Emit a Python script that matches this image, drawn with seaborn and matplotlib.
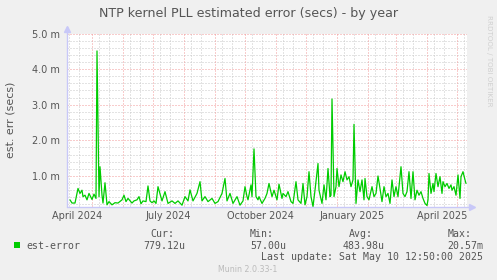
import matplotlib
matplotlib.use("Agg")
import matplotlib.pyplot as plt
import seaborn as sns
import pandas as pd

# =========================
# DATA
# =========================
start = "2024-04-06"

# days since start
day = [3, 5, 8, 11, 13, 15, 16, 18, 20, 22, 25, 27, 29, 30, 32, 33, 35, 36, 38, 40,
       42, 45, 48, 51, 55, 57, 59, 61, 65, 67, 70, 72, 74, 76, 79, 81, 83, 85, 87, 89,
       91, 95, 98, 101, 105, 108, 111, 115, 118, 121, 123, 126, 130, 133, 135, 138, 141, 145, 148, 151,
       155, 158, 160, 163, 166, 170, 173, 176, 178, 180, 181, 184, 185, 187, 189, 191, 192, 195, 198, 200,
       202, 205, 207, 210, 212, 215, 216, 219, 221, 224, 226, 229, 231, 234, 236, 238, 240, 242, 244, 246,
       248, 251, 252, 255, 257, 259, 261, 263, 264, 265, 267, 269, 270, 272, 274, 276, 278, 280, 282, 284,
       286, 287, 289, 291, 293, 295, 297, 298, 300, 302, 305, 307, 309, 311, 313, 315, 317, 319, 321, 323,
       325, 327, 329, 331, 334, 336, 338, 340, 342, 344, 346, 348, 350, 352, 354, 356, 358, 360, 361, 362,
       364, 366, 367, 369, 371, 373, 375, 376, 378, 380, 382, 384, 385, 387, 389, 391, 393, 394, 396, 398,
       399]

# estimated error in milliseconds
est_error = [0.33, 0.24, 0.24, 0.65, 0.51, 0.60, 0.42, 0.46, 0.33, 0.51, 0.34, 0.49, 0.37, 4.51, 0.42, 1.26, 0.46, 0.24, 0.81, 0.19,
             0.28, 0.19, 0.25, 0.24, 0.33, 0.46, 0.28, 0.37, 0.24, 0.30, 0.33, 0.42, 0.22, 0.30, 0.28, 0.72, 0.30, 0.25, 0.30, 0.23,
             0.70, 0.30, 0.56, 0.23, 0.30, 0.23, 0.30, 0.18, 0.42, 0.30, 0.61, 0.30, 0.51, 0.84, 0.30, 0.42, 0.28, 0.37, 0.23, 0.28,
             0.51, 0.93, 0.30, 0.51, 0.23, 0.42, 0.18, 0.30, 0.70, 0.42, 0.33, 0.75, 0.42, 1.76, 0.42, 0.33, 0.42, 0.23, 0.37, 0.51,
             0.79, 0.42, 0.60, 0.33, 0.77, 0.37, 0.51, 0.42, 0.56, 0.28, 0.23, 0.84, 0.33, 0.23, 0.79, 0.19, 0.42, 1.12, 0.42, 0.14,
             0.60, 1.35, 0.60, 0.23, 0.75, 0.33, 1.21, 0.42, 0.46, 3.16, 0.42, 0.70, 1.21, 0.70, 1.03, 0.84, 1.12, 0.89, 0.98, 0.70,
             0.89, 2.45, 0.23, 0.89, 0.56, 0.89, 0.33, 0.93, 0.42, 0.33, 0.70, 0.42, 0.51, 1.00, 0.65, 0.28, 0.70, 0.42, 0.51, 0.23,
             0.89, 0.42, 0.70, 0.42, 1.26, 0.51, 0.42, 0.56, 1.12, 0.37, 1.12, 0.33, 0.60, 0.46, 0.56, 0.37, 0.23, 0.17, 0.33, 1.07,
             0.51, 0.79, 0.56, 1.07, 0.70, 0.98, 0.51, 0.84, 0.70, 0.79, 0.65, 0.75, 0.60, 0.70, 0.46, 1.03, 0.37, 0.98, 1.12, 0.89,
             0.79]

tick_dates = ["2024-04-16", "2024-07-16", "2024-10-16", "2025-01-16", "2025-04-16"]
tick_labels = ["April 2024", "July 2024", "October 2024", "January 2025", "April 2025"]
y_ticks = [1.0, 2.0, 3.0, 4.0, 5.0]
y_tick_labels = ["1.0 m", "2.0 m", "3.0 m", "4.0 m", "5.0 m"]

series_name = "est-error"
stat_names = ["Cur:", "Min:", "Avg:", "Max:"]
stat_values = ["779.12u", "57.00u", "483.98u", "20.57m"]
last_update = "Last update: Sat May 10 12:50:00 2025"

# =========================
# FIGURE
# =========================
W, H = 497, 280
BG = "#F0F0F0"
GREEN = "#00CC00"
TXT = "#555555"

sns.set_theme(style="white")
plt.rcParams["font.family"] = ["DejaVu Sans"]

fig = plt.figure(figsize=(W / 100, H / 100), dpi=100, facecolor=BG)
ax = fig.add_axes([66.5 / W, (H - 206.5) / H, 401 / W, 173 / H])
ax.set_facecolor("white")

t0 = pd.Timestamp(start)
df = pd.DataFrame({"date": t0 + pd.to_timedelta(day, unit="D"), "err": est_error})

x_lo = t0 - pd.Timedelta(hours=12)
x_hi = t0 + pd.Timedelta(days=400, hours=12)

# grid: gray minor, red major
months = pd.date_range("2024-04-01", "2025-06-01", freq="MS")
minor_x = list(months + pd.Timedelta(days=7)) + list(months + pd.Timedelta(days=17))
dot = (0, (1, 2))
ax.vlines(minor_x, 0, 5.0, colors="#C8C8C8", linewidth=0.72, linestyles=dot, zorder=1)
minor_y = [v / 5 for v in range(1, 25) if v % 5 != 0]
ax.hlines(minor_y, x_lo, x_hi, colors="#C8C8C8", linewidth=0.72, linestyles=dot, zorder=1)
ax.vlines(months, 0, 5.0, colors="#F29A9A", linewidth=0.72, linestyles=dot, zorder=2)
ax.hlines(y_ticks, x_lo, x_hi, colors="#F29A9A", linewidth=0.72, linestyles=dot, zorder=2)

sns.lineplot(data=df, x="date", y="err", ax=ax, color=GREEN, linewidth=0.9, zorder=3)

ax.set_xlim(x_lo, x_hi)
ax.set_ylim(0.143, 5.0)
ax.set_xticks(pd.to_datetime(tick_dates))
ax.set_xticklabels(tick_labels)
ax.set_yticks(y_ticks)
ax.set_yticklabels(y_tick_labels)
ax.tick_params(axis="both", length=0, labelsize=7, labelcolor=TXT)
ax.tick_params(axis="y", pad=4.6)
ax.tick_params(axis="x", pad=3.0)
ax.set_xlabel("")
ax.set_ylabel("")

for s in ax.spines.values():
    s.set_visible(False)

# axes with arrows
AX = "#C8C8F8"
ax.plot([0, 1 + 6 / 401], [0, 0], color=AX, lw=1.0, transform=ax.transAxes, clip_on=False, zorder=4)
ax.plot([0, 0], [0, 1 + 6 / 173], color=AX, lw=1.0, transform=ax.transAxes, clip_on=False, zorder=4)
ax.plot([1 + 5 / 401], [0], marker=">", ms=4, color=AX, mec=AX, transform=ax.transAxes, clip_on=False)
ax.plot([0], [1 + 5 / 173], marker="^", ms=4, color=AX, mec=AX, transform=ax.transAxes, clip_on=False)


def fx(x):
    return x / W


def fy(y):
    return 1 - y / H


# titles
fig.text(fx(248.5), fy(13.5), "NTP kernel PLL estimated error (secs) - by year",
         ha="center", va="center", fontsize=9.1, color=TXT)
fig.text(fx(10.5), fy(120), "est. err (secs)", rotation=90,
         ha="center", va="center", fontsize=7.9, color=TXT)
fig.text(fx(488.5), fy(15), "RRDTOOL / TOBI OETIKER", rotation=270,
         ha="center", va="top", fontsize=5.1, color="#D0D0D0")

# legend block
mono = "DejaVu Sans Mono"
fig.patches.append(plt.Rectangle((fx(14), fy(248.3)), 6 / W, 6 / H, transform=fig.transFigure,
                                 facecolor=GREEN, edgecolor="none"))
fig.text(fx(26.7), fy(245.7), series_name, ha="left", va="center", family=mono, fontsize=7.15, color=TXT)
for name, val, xn, xv in zip(stat_names, stat_values, [150, 250, 349.3, 447.7], [143.3, 250, 342.7, 447.7]):
    fig.text(fx(xn), fy(234.3), name, ha="left", va="center", family=mono, fontsize=7.15, color=TXT)
    fig.text(fx(xv), fy(245.7), val, ha="left", va="center", family=mono, fontsize=7.15, color=TXT)
fig.text(fx(482.7), fy(257.3), last_update, ha="right", va="center", family=mono, fontsize=7.15, color=TXT)
fig.text(fx(248), fy(269), "Munin 2.0.33-1", ha="center", va="center", fontsize=5.7, color="#BBBBBB")

fig.savefig("out.png", dpi=100, facecolor=BG)
